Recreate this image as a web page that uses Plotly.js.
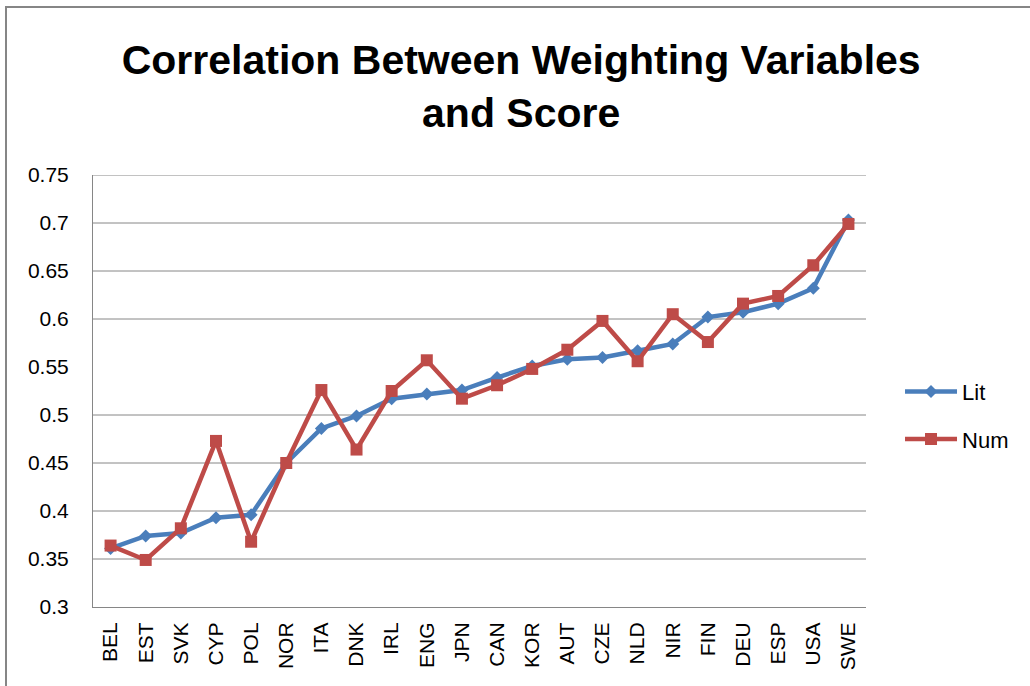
<!DOCTYPE html>
<html>
<head>
<meta charset="utf-8">
<script src="https://cdn.plot.ly/plotly-3.0.1.min.js"></script>
<style>
  html, body { margin: 0; padding: 0; background: #ffffff; }
  #chart { position: absolute; left: 0; top: 0; width: 1030px; height: 686px; }
  #frame { position: absolute; left: 5px; top: 6px; width: 1100px; height: 800px;
           border-left: 2px solid #868686; border-top: 2px solid #868686; pointer-events: none; }
</style>
</head>
<body>
<div id="chart"></div>
<div id="frame"></div>
<script>
const countries = ["BEL","EST","SVK","CYP","POL","NOR","ITA","DNK","IRL","ENG","JPN",
                   "CAN","KOR","AUT","CZE","NLD","NIR","FIN","DEU","ESP","USA","SWE"];
const litValues = [0.361,0.374,0.377,0.393,0.396,0.450,0.486,0.499,0.517,0.522,0.526,
                   0.539,0.551,0.558,0.560,0.567,0.574,0.602,0.607,0.616,0.632,0.703];
const numValues = [0.364,0.349,0.382,0.473,0.368,0.450,0.526,0.464,0.525,0.557,0.517,
                   0.531,0.548,0.568,0.598,0.556,0.605,0.576,0.616,0.624,0.656,0.699];
const yTicks = [0.3,0.35,0.4,0.45,0.5,0.55,0.6,0.65,0.7,0.75];
const yTickText = ["0.3","0.35","0.4","0.45","0.5","0.55","0.6","0.65","0.7","0.75"];
const gridValues = [0.35,0.4,0.45,0.5,0.6,0.65,0.7,0.75];

const FONT = "Liberation Sans, Arial, sans-serif";

const traces = [
  { x: countries, y: litValues, name: "Lit", type: "scatter", mode: "lines+markers",
    legendgroup: "a",
    line: { color: "#4A7EBB", width: 4.5 },
    marker: { symbol: "diamond", size: 10, color: "#4A7EBB" } },
  { x: countries, y: numValues, name: "Num", type: "scatter", mode: "lines+markers",
    legendgroup: "b",
    line: { color: "#BE4B48", width: 4.5 },
    marker: { symbol: "square", size: 12, color: "#BE4B48" } }
];

const shapes = gridValues.map(v => ({
  type: "line", xref: "paper", yref: "y", x0: 0, x1: 1, y0: v, y1: v,
  line: { color: "#868686", width: 1 }, layer: "below"
}));

const layout = {
  width: 1030, height: 686,
  margin: { l: 93, r: 164, t: 175, b: 79 },
  paper_bgcolor: "#ffffff", plot_bgcolor: "#ffffff",
  title: {
    text: "<b>Correlation Between Weighting Variables<br>and Score</b>",
    font: { family: FONT, size: 41, color: "#000000" },
    x: 0.506, xanchor: "center", xref: "container",
    y: 0.892, yanchor: "top", yref: "container"
  },
  xaxis: {
    type: "category", range: [-0.5, countries.length - 0.5],
    showgrid: false, zeroline: false,
    showline: true, linecolor: "#868686", linewidth: 1,
    ticks: "", tickangle: -90,
    tickfont: { family: FONT, size: 21, color: "#000000" },
    ticklabelstandoff: 6
  },
  yaxis: {
    range: [0.3, 0.75], tickvals: yTicks, ticktext: yTickText,
    showgrid: false, zeroline: false,
    showline: true, linecolor: "#868686", linewidth: 1,
    ticks: "",
    tickfont: { family: FONT, size: 21, color: "#000000" },
    ticklabelstandoff: 19
  },
  showlegend: true,
  legend: {
    x: 1.044, xanchor: "left", y: 0.443, yanchor: "middle",
    font: { family: FONT, size: 22, color: "#000000" },
    itemwidth: 52, tracegroupgap: 16, traceorder: "grouped",
    bgcolor: "rgba(0,0,0,0)"
  },
  shapes: shapes
};

Plotly.newPlot("chart", traces, layout, { displayModeBar: false, staticPlot: true });
</script>
</body>
</html>
